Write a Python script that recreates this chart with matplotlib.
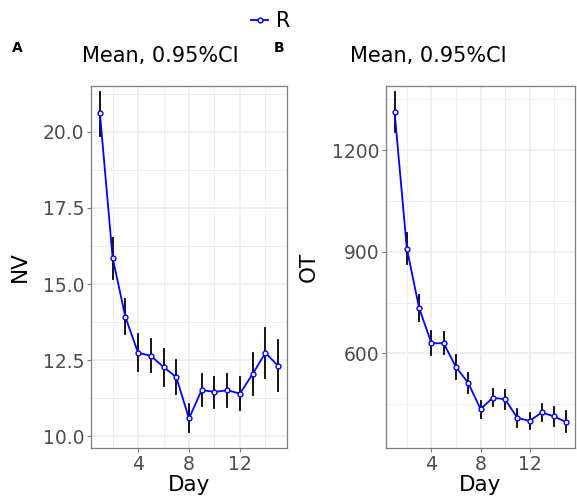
import matplotlib

matplotlib.use("Agg")
import matplotlib.pyplot as plt
from matplotlib.lines import Line2D
from matplotlib.ticker import MultipleLocator

days = list(range(1, 16))

nv_mean = [20.61, 15.86, 13.92, 12.74, 12.64, 12.27, 11.94, 10.58,
           11.52, 11.45, 11.51, 11.40, 12.04, 12.74, 12.31]
nv_low = [19.88, 15.17, 13.36, 12.14, 12.10, 11.65, 11.38, 10.12,
          10.99, 10.93, 10.95, 10.87, 11.36, 11.92, 11.48]
nv_high = [21.32, 16.51, 14.50, 13.35, 13.19, 12.86, 12.50, 11.05,
           12.05, 11.95, 12.05, 11.94, 12.72, 13.54, 13.16]

ot_mean = [1312, 909, 734, 630, 630, 560, 513, 436,
           469, 465, 410, 401, 426, 414, 397]
ot_low = [1254, 863, 695, 595, 598, 526, 484, 409,
          445, 437, 383, 378, 400, 386, 367]
ot_high = [1370, 954, 772, 666, 664, 594, 541, 460,
           495, 492, 437, 425, 451, 442, 430]

W, H = 577, 498
fig = plt.figure(figsize=(W / 100, H / 100), dpi=100)

grid_col = "#ebebeb"
frame_col = "#7f7f7f"
tick_col = "#4d4d4d"


def panel(rect, mean, low, high, ylabel, ylim, ymajor, yfmt):
    ax = fig.add_axes(rect)
    for lo, hi, d in zip(low, high, days):
        ax.plot([d, d], [lo, hi], color="black", lw=1.3, zorder=2)
    ax.plot(days, mean, color="#0000ff", lw=1.3, marker="o", ms=3.5,
            mfc="white", mec="#0000ff", mew=1.0, zorder=3)
    ax.set_xlim(0.3, 15.7)
    ax.set_ylim(*ylim)
    ax.xaxis.set_major_locator(MultipleLocator(4))
    ax.xaxis.set_minor_locator(MultipleLocator(2))
    ax.yaxis.set_major_locator(MultipleLocator(ymajor))
    ax.yaxis.set_minor_locator(MultipleLocator(ymajor / 2))
    ax.yaxis.set_major_formatter(yfmt)
    ax.grid(which="major", color=grid_col, lw=1.1, zorder=0)
    ax.grid(which="minor", color=grid_col, lw=0.6, zorder=0)
    ax.set_axisbelow(True)
    ax.tick_params(which="minor", length=0)
    ax.tick_params(which="major", length=3, color=frame_col, width=0.8,
                   labelsize=13.5, labelcolor=tick_col, pad=2)
    for s in ax.spines.values():
        s.set_color(frame_col)
        s.set_linewidth(0.9)
    ax.set_xlabel("Day", fontsize=15.5, labelpad=1)
    ax.set_ylabel(ylabel, fontsize=15.5, labelpad=9)
    return ax


axA = panel([91 / W, 1 - 448 / H, 196 / W, 362 / H], nv_mean, nv_low, nv_high,
            "NV", (9.61, 21.51), 2.5, "{x:.1f}")
axB = panel([386 / W, 1 - 448 / H, 189 / W, 362 / H], ot_mean, ot_low, ot_high,
            "OT", (321, 1389), 300, "{x:.0f}")

fig.text(82 / W, 1 - 62 / H, "Mean, 0.95%CI", fontsize=15, ha="left", va="baseline")
fig.text(350 / W, 1 - 62 / H, "Mean, 0.95%CI", fontsize=15, ha="left", va="baseline")
fig.text(12 / W, 1 - 52 / H, "A", fontsize=10, fontweight="bold", ha="left", va="baseline")
fig.text(274 / W, 1 - 52 / H, "B", fontsize=10, fontweight="bold", ha="left", va="baseline")

handle = Line2D([], [], color="#0000ff", lw=1.3, marker="o", ms=3.5,
                mfc="white", mec="#0000ff", mew=1.0)
fig.legend([handle], ["R"], loc="center", bbox_to_anchor=(271 / W, 1 - 21 / H),
           frameon=False, fontsize=15, handlelength=0.8, handletextpad=0.4,
           borderpad=0, borderaxespad=0)

fig.savefig("out.png", dpi=100)
